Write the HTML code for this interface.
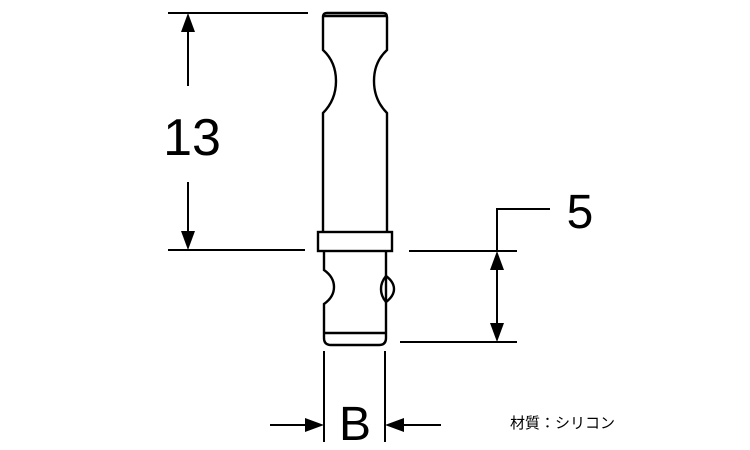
<!DOCTYPE html>
<html><head><meta charset="utf-8"><style>
html,body{margin:0;padding:0;background:#fff;}
svg{display:block;}
text{font-family:"Liberation Sans",sans-serif;fill:#000;}
</style></head><body>
<svg width="750" height="450" viewBox="0 0 750 450" xmlns="http://www.w3.org/2000/svg">
<g stroke="#000" stroke-width="2" fill="none">
<line x1="168" y1="13" x2="308" y2="13"/>
<line x1="168" y1="250" x2="305" y2="250"/>
<line x1="188" y1="28" x2="188" y2="86"/>
<line x1="188" y1="182" x2="188" y2="236"/>
<line x1="409" y1="251" x2="517" y2="251"/>
<line x1="400" y1="342" x2="517" y2="342"/>
<line x1="497" y1="265" x2="497" y2="328"/>
<polyline points="497,251 497,209 550,209"/>
<line x1="324" y1="351" x2="324" y2="442"/>
<line x1="385" y1="351" x2="385" y2="442"/>
<line x1="270" y1="425" x2="310" y2="425"/>
<line x1="400" y1="425" x2="441" y2="425"/>
</g>
<g stroke="#000" stroke-width="2.4" fill="none">
<path d="M323,232 L323,113 Q336,100 336,81 Q336,62 323,50 L323,17 Q323,13 327,13 L383,13 Q387,13 387,17 L387,50 Q374,62 374,81 Q374,100 387,113 L387,232"/>
<line x1="323" y1="16" x2="387" y2="16"/>
<rect x="318" y="232" width="74" height="19"/>
<path d="M324,251 L324,270 Q334,277 334,287 Q334,297 324,304 L324,338 Q324,345 331,345 L379,345 Q386,345 386,338 L386,251"/>
<line x1="324" y1="333" x2="386" y2="333"/>
<path d="M386,276 Q394,282 394,289 Q394,296 386,302 Q381,296 381,289 Q381,282 386,276 Z"/>
</g>
<g fill="#000">
<polygon points="188,13 181,32 195,32"/>
<polygon points="188,250 181,231 195,231"/>
<polygon points="497,251 490,270 504,270"/>
<polygon points="497,342 490,323 504,323"/>
<polygon points="324,425 305,418 305,432"/>
<polygon points="385,425 404,418 404,432"/>
</g>
<text x="192" y="155" font-size="52" text-anchor="middle">13</text>
<text x="580" y="228" font-size="48" text-anchor="middle">5</text>
<text x="355" y="440" font-size="48" text-anchor="middle">B</text>
<text x="510" y="428" font-size="15" style="font-family:'Liberation Sans','Noto Sans CJK JP',sans-serif">材質：シリコン</text>
</svg>
</body></html>
